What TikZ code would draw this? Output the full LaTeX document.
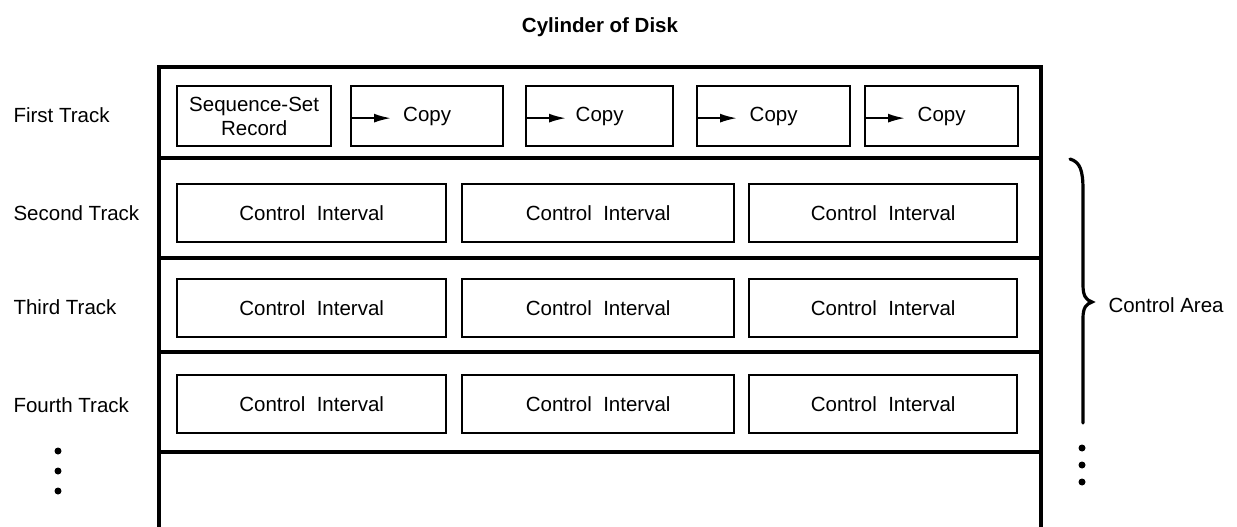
\documentclass[tikz,border=0pt]{standalone}
\usepackage{fontspec}
\setmainfont{Liberation Sans}
\usetikzlibrary{arrows.meta}
\begin{document}
\begin{tikzpicture}[x=1pt,y=-1pt,
  txt/.style={font=\fontsize{20.5}{24}\selectfont},
  cell/.style={draw,line width=2.3pt,inner sep=0pt,anchor=north west,txt,align=center},
  outer/.style={line width=3.4pt},
  cparrow/.style={line width=2pt,-{Latex[length=17pt,width=9pt]}},
  dot/.style={circle,fill,inner sep=0pt,minimum size=7pt}]
\useasboundingbox (0,0) rectangle (1237,527);
\node[font=\fontsize{20.5}{24}\selectfont\bfseries] (title) at (600,27) {Cylinder of Disk};
% outer frame
\draw[outer] (159,527) -- (159,67) -- (1041,67) -- (1041,527);
\foreach \y in {158,258,352,452} \draw[outer] (159,\y) -- (1041,\y);
% labels
\node[txt,anchor=west] (l1) at (10,115) {First Track};
\node[txt,anchor=west] (l2) at (10,213) {Second Track};
\node[txt,anchor=west] (l3) at (10,307) {Third Track};
\node[txt,anchor=west] (l4) at (10,405) {Fourth Track};
\node[dot] (ld1) at (58,451) {};
\node[dot] (ld2) at (58,471) {};
\node[dot] (ld3) at (58,491) {};
% first track
\node[cell,minimum width=154pt,minimum height=60pt] (ssr) at (176,85) {Sequence-Set\\Record};
\node[cell,minimum width=152pt,minimum height=60pt] (c1) at (350,85) {Copy};
\node[cell,minimum width=147pt,minimum height=60pt] (c2) at (525,85) {Copy};
\node[cell,minimum width=153pt,minimum height=60pt] (c3) at (696,85) {Copy};
\node[cell,minimum width=153pt,minimum height=60pt] (c4) at (864,85) {Copy};
\foreach \c in {c1,c2,c3,c4} {
  \coordinate (\c tip) at ([xshift=41pt,yshift=-2pt]\c.west);
  \draw[cparrow] ([yshift=-2pt]\c.west) -- (\c tip);
}
% control intervals
\foreach \r/\y in {2/183,3/278,4/374} {
  \node[cell,minimum width=269pt,minimum height=58pt] (ci\r a) at (176,\y) {Control\ \ Interval};
  \node[cell,minimum width=272pt,minimum height=58pt] (ci\r b) at (461,\y) {Control\ \ Interval};
  \node[cell,minimum width=268pt,minimum height=58pt] (ci\r c) at (748,\y) {Control\ \ Interval};
}
% brace
\draw[line width=3.2pt,line cap=round] (1070,159) .. controls (1080,162) and (1083,170) .. (1083,190)
  -- (1083,285) .. controls (1083,296) and (1086,300) .. (1092,302)
  .. controls (1086,304) and (1083,308) .. (1083,318) -- (1083,423);
\node[txt,anchor=west] (ca) at (1105,305) {Control Area};
\node[dot] (rd1) at (1082,448) {};
\node[dot] (rd2) at (1082,465) {};
\node[dot] (rd3) at (1082,482) {};
\end{tikzpicture}
\end{document}
